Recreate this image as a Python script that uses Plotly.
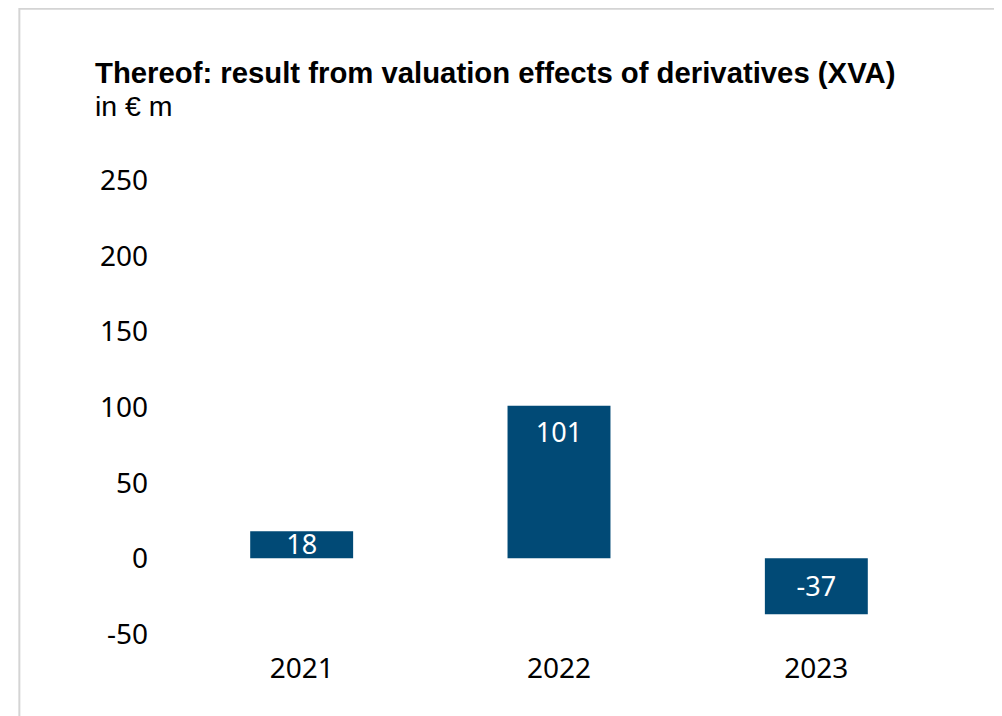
import plotly.graph_objects as go

years = ["2021", "2022", "2023"]
values = [18, 101, -37]
labels = ["18", "101", "-37"]
y_ticks = [-50, 0, 50, 100, 150, 200, 250]

title_text = "Thereof: result from valuation effects of derivatives (XVA)"
subtitle_text = "in € m"

bar_color = "#014a76"
font_family = "Noto Sans, Open Sans, sans-serif"
heading_family = "Liberation Sans, Arial, sans-serif"

W, H = 1002, 716
# plot area in figure pixels (page has an 8px body margin)
plot_left, plot_right = 164.75, 937.25
plot_top, plot_bottom = 165.0, 637.6
pw = plot_right - plot_left
ph = plot_bottom - plot_top


def px_x(px):
    return (px - plot_left) / pw


def px_y(py):
    return (plot_bottom - py) / ph


# label positions: "inside end" for tall bars, centred for short ones
label_offset = 18
label_nudge = -1.5  # small downward correction of text baseline
label_y = [(v - (label_offset if v > 0 else -label_offset) if abs(v) >= 2 * label_offset else v / 2)
           + label_nudge for v in values]

fig = go.Figure()
fig.add_trace(go.Bar(
    x=years, y=values,
    marker=dict(color=bar_color, line=dict(width=0)),
    hoverinfo="skip",
))
fig.add_trace(go.Scatter(
    x=years, y=label_y, text=labels, mode="text",
    textposition="middle center",
    textfont=dict(color="white", size=27, family=font_family),
    hoverinfo="skip",
))

fig.add_shape(type="rect", xref="paper", yref="paper",
              x0=px_x(11), x1=px_x(1030),
              y0=px_y(760), y1=px_y(1),
              line=dict(color="#d4d4d4", width=2), fillcolor="rgba(0,0,0,0)",
              layer="below")

heading = ("<span style='font-size:29.3px'><b>" + title_text + "</b></span><br>"
           "<span style='font-size:28.5px'>" + subtitle_text + "</span>")
fig.add_annotation(text=heading, xref="paper", yref="paper",
                   x=px_x(85), y=px_y(81), xanchor="left", yanchor="middle",
                   align="left", showarrow=False,
                   font=dict(family=heading_family, size=25.5, color="black"))

fig.update_layout(
    width=W, height=H,
    margin=dict(l=plot_left, r=W - plot_right, t=plot_top, b=H - plot_bottom, pad=0),
    paper_bgcolor="white", plot_bgcolor="white",
    bargap=0.6,
    showlegend=False,
    font=dict(family=font_family, color="black", size=28),
)
fig.update_xaxes(showgrid=False, zeroline=False, showline=False, ticks="",
                 tickfont=dict(size=28, color="black"), ticklabelstandoff=3)
fig.update_yaxes(range=[-58, 255], tickvals=y_ticks, ticktext=[str(v) for v in y_ticks],
                 showgrid=False, zeroline=False, showline=False, ticks="",
                 tickfont=dict(size=28, color="black"), ticklabelstandoff=24)

fig.write_html("out.html")
